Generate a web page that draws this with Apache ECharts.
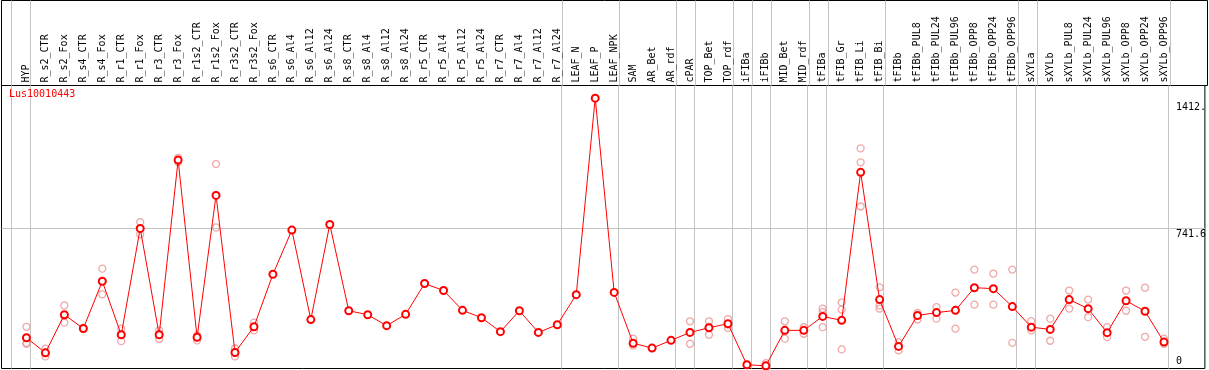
<!DOCTYPE html>
<html>
<head>
<meta charset="utf-8">
<script src="https://cdn.jsdelivr.net/npm/echarts@6/dist/echarts.min.js"></script>
<style>
html,body{margin:0;padding:0;background:#fff;}
#chart{width:1209px;height:370px;}
</style>
</head>
<body>
<div id="chart"></div>
<script>
const geneName = 'Lus10010443';

const categories = [
  'HYP','R_s2_CTR','R_s2_Fox','R_s4_CTR','R_s4_Fox','R_r1_CTR','R_r1_Fox','R_r3_CTR','R_r3_Fox',
  'R_r1s2_CTR','R_r1s2_Fox','R_r3s2_CTR','R_r3s2_Fox','R_s6_CTR','R_s6_Al4','R_s6_Al12','R_s6_Al24',
  'R_s8_CTR','R_s8_Al4','R_s8_Al12','R_s8_Al24','R_r5_CTR','R_r5_Al4','R_r5_Al12','R_r5_Al24',
  'R_r7_CTR','R_r7_Al4','R_r7_Al12','R_r7_Al24','LEAF_N','LEAF_P','LEAF_NPK','SAM','AR_Bet','AR_rdf',
  'cPAR','TOP_Bet','TOP_rdf','iFIBa','iFIBb','MID_Bet','MID_rdf','tFIBa','tFIB_Gr','tFIB_Li','tFIB_Bi',
  'tFIBb','tFIBb_PUL8','tFIBb_PUL24','tFIBb_PUL96','tFIBb_OPP8','tFIBb_OPP24','tFIBb_OPP96',
  'sXYLa','sXYLb','sXYLb_PUL8','sXYLb_PUL24','sXYLb_PUL96','sXYLb_OPP8','sXYLb_OPP24','sXYLb_OPP96'
];

const meanValues = [
  163, 83, 285, 212, 462, 179, 742, 179, 1104,
  165, 917, 85, 221, 499, 733, 259, 763,
  306, 285, 227, 287, 450, 413, 308, 269,
  195, 306, 191, 232, 391, 1432, 403, 134, 108, 149,
  191, 216, 237, 20, 14, 202, 202, 276, 255, 1039, 365,
  117, 281, 296, 308, 428, 423, 328,
  219, 207, 365, 317, 190, 359, 303, 140
];

const replicateValues = [
  [221, 131, 136], [105, 64, 82], [334, 243, 278], [212, 215, 210], [529, 393, 463],
  [211, 145, 181], [775, 711, 738], [202, 156, 181], [1116, 1104, 1094],
  [175, 149, 170], [1083, 747, 920], [85, 64, 106], [243, 202, 219],
  [], [], [], [], [], [], [], [], [], [], [], [], [], [], [], [], [], [], [],
  [158, 122], [], [], [250, 131, 193], [250, 179, 220], [262, 216, 234],
  [20], [28, 7], [250, 158, 198], [219, 184], [317, 299, 219], [350, 312, 101],
  [1166, 1092, 858], [430, 334, 317],
  [140, 96], [294, 259], [325, 264], [402, 211], [524, 338], [503, 338], [524, 136],
  [251, 202], [264, 147], [413, 317], [365, 272], [219, 166], [413, 306], [428, 168], [158, 131]
];

const groupStarts = ['HYP','R_s2_CTR','LEAF_N','SAM','cPAR','TOP_Bet','iFIBa','iFIBb',
  'MID_Bet','tFIBa','tFIB_Gr','tFIBb','sXYLa','sXYLb'];

const yTickValues = [0, 741.6, 1412.4];
const yMin = 0;
const yMax = 1499;

const cellOffset = 0.79;
const xMin = -1.316;
const xMax = 62.158;

const boundaries = groupStarts.map(c => categories.indexOf(c) - cellOffset)
  .concat([categories.length - cellOffset]);

const meanData = meanValues.map((v, i) => [i, v]);
const repData = [];
replicateValues.forEach((arr, i) => arr.forEach(v => repData.push([i, v])));

const font = 'DejaVu Sans Mono';
const gridLineColor = '#c4c4c4';

const chart = echarts.init(document.getElementById('chart'), null, {renderer: 'canvas'});
chart.setOption({
  animation: false,
  backgroundColor: '#ffffff',
  title: {
    text: geneName, left: 9, top: 89, padding: 0,
    textStyle: {color: '#ff0000', fontSize: 10, fontWeight: 'normal', fontFamily: font}
  },
  grid: [
    {left: 1.5, right: 1.5, top: 0.5, height: 85, show: true, borderColor: '#000', borderWidth: 1, backgroundColor: '#fff'},
    {left: 1.5, right: 1.5, top: 85.5, bottom: 1.5, show: true, borderColor: '#000', borderWidth: 1, backgroundColor: 'transparent'}
  ],
  xAxis: [
    {
      type: 'value', gridIndex: 0, min: xMin, max: xMax,
      axisLine: {show: false}, axisLabel: {show: false},
      axisTick: {show: false, customValues: boundaries},
      splitLine: {show: true, lineStyle: {color: gridLineColor, width: 1}}
    },
    {
      type: 'value', gridIndex: 1, min: xMin, max: xMax, position: 'top',
      axisLine: {show: false},
      axisTick: {show: false, customValues: boundaries},
      splitLine: {show: true, lineStyle: {color: gridLineColor, width: 1}},
      axisLabel: {
        show: true, rotate: 90, margin: 3,
        customValues: categories.map((c, i) => i),
        formatter: v => categories[Math.round(v)] || '',
        fontSize: 10, fontFamily: font, color: '#000'
      }
    }
  ],
  yAxis: [
    {type: 'value', gridIndex: 0, min: 0, max: 1, show: false},
    {
      type: 'value', gridIndex: 1, min: yMin, max: yMax, position: 'right',
      axisLine: {show: false},
      axisTick: {show: false, customValues: [yTickValues[1]]},
      splitLine: {show: true, lineStyle: {color: gridLineColor, width: 1}},
      axisLabel: {
        inside: true, margin: 29, align: 'left', verticalAlign: 'top',
        customValues: yTickValues.slice(1),
        formatter: v => String(v).slice(0, 5),
        fontSize: 10, fontFamily: font, color: '#000', padding: [1, 0, 0, 0]
      }
    },
    {
      type: 'value', gridIndex: 1, min: yMin, max: yMax, position: 'right',
      axisLine: {show: false},
      axisTick: {show: false, customValues: [yTickValues[0]]},
      splitLine: {show: false},
      axisLabel: {
        inside: true, margin: 29, align: 'left', verticalAlign: 'bottom',
        customValues: [yTickValues[0]],
        formatter: v => String(v).slice(0, 5),
        fontSize: 10, fontFamily: font, color: '#000', padding: [0, 0, 2, 0]
      }
    }
  ],
  series: [
    {
      type: 'scatter', xAxisIndex: 1, yAxisIndex: 1, data: repData, z: 2,
      symbol: 'circle', symbolSize: 7,
      itemStyle: {color: 'rgba(0,0,0,0)', borderColor: '#eb9494', borderWidth: 1.3},
      silent: true
    },
    {
      type: 'line', xAxisIndex: 1, yAxisIndex: 1, data: meanData, z: 3,
      symbol: 'emptyCircle', symbolSize: 7, showAllSymbol: true,
      lineStyle: {color: '#ff0000', width: 1},
      itemStyle: {color: '#ff0000', borderColor: '#ff0000', borderWidth: 1.2},
      silent: true
    }
  ]
});
</script>
</body>
</html>
